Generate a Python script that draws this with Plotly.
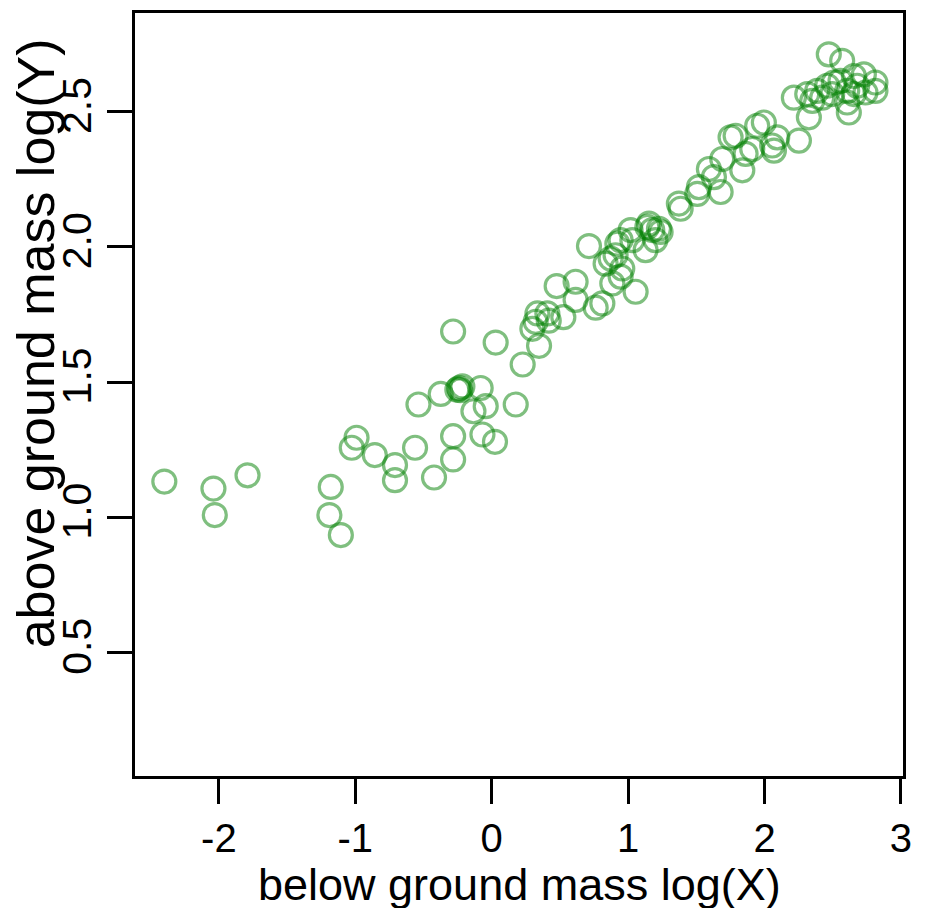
import plotly.graph_objects as go

# below ground mass log(X)
below_log_x = [
    -2.40, -2.04, -2.03, -1.79, -1.18, -1.19, -1.106, -0.991, -1.026, -0.857,
    -0.709, -0.709, -0.562, -0.537, -0.423, -0.374, -0.283, -0.283, -0.283, -0.239,
    -0.215, -0.252, -0.230, -0.081, -0.134, -0.044, -0.068, 0.024, 0.029, 0.176,
    0.227,
    0.347, 0.298, 0.322, 0.335, 0.408, 0.418, 0.525, 0.476, 0.615, 0.615,
    0.762, 0.811, 0.713, 1.055, 0.884, 0.945, 0.835, 0.872, 0.908, 0.957,
    0.921, 0.945, 1.031, 1.128, 1.018, 1.141, 1.177,
    1.153, 1.226, 1.238, 1.200, 1.372, 1.385, 1.507, 1.519, 1.592, 1.629,
    1.678, 1.690, 1.751, 1.788, 1.837, 1.861, 1.910, 1.946, 1.995, 2.056,
    2.093, 2.069, 2.252, 2.215, 2.325, 2.313, 2.350, 2.386, 2.423, 2.459,
    2.508, 2.496, 2.557, 2.606, 2.606, 2.618, 2.655, 2.679, 2.728, 2.740,
    2.813, 2.813, 2.655, 2.471, 2.569,
]

# above ground mass log(Y)
above_log_y = [
    1.132, 1.106, 1.008, 1.155, 1.112, 1.008, 0.934, 1.294, 1.257, 1.230,
    1.193, 1.137, 1.257, 1.417, 1.147, 1.456, 1.687, 1.300, 1.214, 1.478,
    1.484, 1.472, 1.470, 1.478, 1.392, 1.411, 1.306, 1.279, 1.646, 1.417,
    1.565,
    1.634, 1.697, 1.723, 1.754, 1.754, 1.727, 1.740, 1.855, 1.871, 1.804,
    1.775, 1.791, 2.003, 1.834, 1.865, 1.890, 1.938, 1.957, 1.969, 1.920,
    2.012, 2.025, 2.025, 1.988, 2.062, 2.074, 2.062,
    2.086, 2.067, 2.055, 2.025, 2.160, 2.141, 2.196, 2.221, 2.288, 2.258,
    2.203, 2.325, 2.405, 2.411, 2.283, 2.344, 2.362, 2.448, 2.460, 2.375,
    2.405, 2.356, 2.393, 2.552, 2.479, 2.565, 2.540, 2.577, 2.552, 2.596,
    2.608, 2.565, 2.614, 2.577, 2.534, 2.497, 2.632, 2.596, 2.638, 2.571,
    2.608, 2.577, 2.565, 2.712, 2.688,
]

x_tick_vals = [-2, -1, 0, 1, 2, 3]
x_tick_text = ["-2", "-1", "0", "1", "2", "3"]
y_tick_vals = [0.5, 1.0, 1.5, 2.0, 2.5]
y_tick_text = ["0.5", "1.0", "1.5", "2.0", "2.5"]

x_title = "below ground mass log(X)"
y_title = "above ground mass log(Y)"

FONT = "Liberation Sans, Arial, Helvetica, sans-serif"

fig = go.Figure()
fig.add_trace(go.Scatter(
    x=below_log_x, y=above_log_y, mode="markers",
    marker=dict(symbol="circle-open", size=23, color="rgba(0,128,0,0.5)",
                line=dict(width=3.2, color="rgba(0,128,0,0.5)")),
    showlegend=False, hoverinfo="x+y",
))

fig.update_layout(
    width=926, height=908,
    margin=dict(l=127, r=31, t=2, b=140),
    paper_bgcolor="white", plot_bgcolor="white",
    font=dict(family=FONT, color="black"),
    xaxis=dict(range=[-2.615, 3.015], tickvals=x_tick_vals, ticktext=x_tick_text,
               showgrid=False, zeroline=False, showline=True, mirror=True,
               linecolor="black", linewidth=3, ticks="outside", ticklen=25,
               tickwidth=2.5, tickcolor="black", ticklabelstandoff=0,
               tickfont=dict(size=40, family=FONT, color="black")),
    yaxis=dict(range=[0.043, 2.865], tickvals=y_tick_vals, ticktext=y_tick_text,
               showgrid=False, zeroline=False, showline=True, mirror=True,
               linecolor="black", linewidth=3, ticks="outside", ticklen=25,
               tickwidth=2.5, tickcolor="black", tickangle=-90,
               tickfont=dict(size=41, family=FONT, color="black")),
    annotations=[
        dict(text=x_title, xref="paper", yref="paper", x=0.5, y=-0.1423,
             xanchor="center", yanchor="middle", showarrow=False,
             font=dict(size=45, family=FONT, color="black")),
        dict(text=y_title, xref="paper", yref="paper", x=-0.129, y=0.567,
             xanchor="center", yanchor="middle", showarrow=False, textangle=-90,
             font=dict(size=52, family=FONT, color="black")),
    ],
)

fig.write_html("out.html")
